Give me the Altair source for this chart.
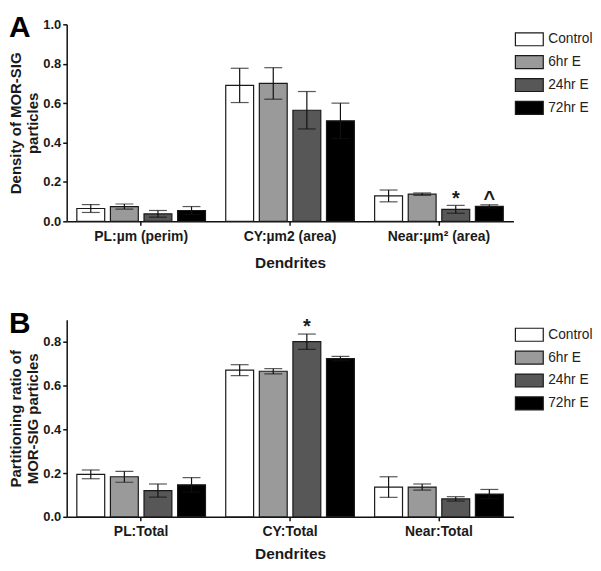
import altair as alt
import pandas as pd

groups = ["Control", "6hr E", "24hr E", "72hr E"]
fill_colors = ["#ffffff", "#9a9a9a", "#575757", "#000000"]

# ---- Panel A : density ----
a_categories = ["PL:µm (perim)", "CY:µm2 (area)", "Near:µm² (area)"]
a_control = [0.065, 0.690, 0.129]
a_6hr = [0.075, 0.700, 0.138]
a_24hr = [0.038, 0.564, 0.061]
a_72hr = [0.055, 0.510, 0.076]
a_control_err = [0.020, 0.087, 0.030]
a_6hr_err = [0.013, 0.080, 0.006]
a_24hr_err = [0.017, 0.095, 0.020]
a_72hr_err = [0.020, 0.090, 0.008]
a_ticks = [0.0, 0.2, 0.4, 0.6, 0.8, 1.0]
a_ymax = 1.0
a_ytitle = ["Density of  MOR-SIG", "particles"]
a_annot_cat = ["Near:µm² (area)", "Near:µm² (area)"]
a_annot_grp = ["24hr E", "72hr E"]
a_annot_txt = ["*", "^"]
a_annot_y = [0.082, 0.082]

# ---- Panel B : partitioning ratio ----
b_categories = ["PL:Total", "CY:Total", "Near:Total"]
b_control = [0.194, 0.670, 0.136]
b_6hr = [0.183, 0.665, 0.136]
b_24hr = [0.120, 0.800, 0.082]
b_72hr = [0.146, 0.723, 0.104]
b_control_err = [0.020, 0.025, 0.047]
b_6hr_err = [0.025, 0.012, 0.014]
b_24hr_err = [0.030, 0.035, 0.010]
b_72hr_err = [0.033, 0.010, 0.021]
b_ticks = [0.0, 0.2, 0.4, 0.6, 0.8]
b_ymax = 0.9
b_ytitle = ["Partitioning ratio of", "MOR-SIG particles"]
b_annot_cat = ["CY:Total"]
b_annot_grp = ["24hr E"]
b_annot_txt = ["*"]
b_annot_y = [0.838]


def make_df(cats, means, errs):
    rows = []
    for g, m, e in zip(groups, means, errs):
        for c, mv, ev in zip(cats, m, e):
            rows.append({"cat": c, "grp": g, "mean": mv, "lo": mv - ev, "hi": mv + ev})
    return pd.DataFrame(rows)


def panel(cats, means, errs, ymax, ticks, ytitle, letter, ann, legx, legy, tpad):
    df = make_df(cats, means, errs)
    adf = pd.DataFrame(ann)
    x = alt.X("cat:N", sort=cats, title="Dendrites",
              scale=alt.Scale(domain=cats, paddingInner=0.1, paddingOuter=0.05),
              axis=alt.Axis(labelAngle=0, labelFontSize=14, labelPadding=4, tickSize=4,
                            titleFontSize=15.5, titlePadding=tpad))
    xo = alt.XOffset("grp:N", sort=groups,
                     scale=alt.Scale(domain=groups, paddingInner=0.17, paddingOuter=0.08))
    yscale = alt.Scale(domain=[0, ymax], nice=False, zero=True)
    yaxis = alt.Axis(values=ticks, format=".1f", labelFontSize=13, labelPadding=2, tickSize=4,
                     titleFontSize=15, titleLineHeight=17, titlePadding=2)

    base = alt.Chart(df)
    bars = base.mark_bar(stroke="#1a1a1a", strokeWidth=1.2).encode(
        x=x, xOffset=xo,
        y=alt.Y("mean:Q", scale=yscale, axis=yaxis, title=ytitle),
        fill=alt.Fill("grp:N", sort=groups,
                      scale=alt.Scale(domain=groups, range=fill_colors),
                      legend=alt.Legend(title=None, orient="none", legendX=legx, legendY=legy,
                                        symbolType="M-2,-0.93H2V0.93H-2Z", symbolSize=196,
                                        symbolStrokeColor="#1a1a1a", symbolStrokeWidth=1.2,
                                        labelFont="Liberation Sans", labelFontSize=13.8,
                                        labelColor="#222222", labelOffset=11, rowPadding=5,
                                        labelFontWeight="normal")),
    )
    rules = base.mark_rule(color="#111111", strokeWidth=1.2).encode(
        x=x, xOffset=xo,
        y=alt.Y("lo:Q", scale=yscale, axis=yaxis, title=ytitle), y2="hi:Q")
    cap_hi = base.mark_tick(color="#111111", orient="horizontal", size=18, thickness=1.2).encode(
        x=x, xOffset=xo, y=alt.Y("hi:Q", scale=yscale, axis=yaxis, title=ytitle))
    cap_lo = base.mark_tick(color="#111111", orient="horizontal", size=18, thickness=1.2).encode(
        x=x, xOffset=xo, y=alt.Y("lo:Q", scale=yscale, axis=yaxis, title=ytitle))
    stars = alt.Chart(adf).mark_text(font="Liberation Sans", fontSize=20, fontWeight="bold",
                                     baseline="alphabetic", color="#1a1a1a").encode(
        x=x, xOffset=xo, y=alt.Y("y:Q", scale=yscale, axis=yaxis, title=ytitle), text="txt:N")
    lab = alt.Chart(pd.DataFrame({"t": [letter]})).mark_text(
        font="Liberation Sans", fontSize=30, fontWeight="bold", align="left",
        baseline="alphabetic", color="#000000").encode(
        x=alt.value(-58), y=alt.value(13), text="t:N")
    return alt.layer(bars, rules, cap_hi, cap_lo, stars, lab).properties(width=449, height=198)


top = panel(a_categories, [a_control, a_6hr, a_24hr, a_72hr],
            [a_control_err, a_6hr_err, a_24hr_err, a_72hr_err], a_ymax, a_ticks, a_ytitle, "A",
            {"cat": a_annot_cat, "grp": a_annot_grp, "txt": a_annot_txt, "y": a_annot_y},
            457, 7, 12)
bottom = panel(b_categories, [b_control, b_6hr, b_24hr, b_72hr],
               [b_control_err, b_6hr_err, b_24hr_err, b_72hr_err], b_ymax, b_ticks, b_ytitle, "B",
               {"cat": b_annot_cat, "grp": b_annot_grp, "txt": b_annot_txt, "y": b_annot_y},
               457, 7, 8)

chart = alt.vconcat(top, bottom, spacing=38).resolve_legend(fill="independent").properties(
    padding={"left": 0, "top": 4, "right": 0, "bottom": 0}
).configure_view(stroke=None).configure_axis(
    domainColor="#111111", domainWidth=1.5, tickColor="#111111", tickWidth=1.5,
    labelFont="Liberation Sans", labelFontWeight="bold", labelColor="#1a1a1a",
    titleFont="Liberation Sans", titleFontWeight="bold", titleColor="#1a1a1a", grid=False
)

chart.save("out.html", embed_options={"renderer": "svg", "actions": False})
